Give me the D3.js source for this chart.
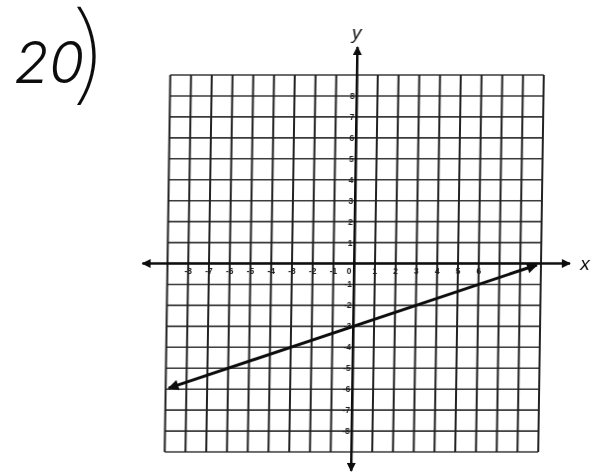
<!DOCTYPE html>
<html>
<head>
<meta charset="utf-8">
<script src="https://cdn.jsdelivr.net/npm/d3@7"></script>
<style>
  html, body { margin: 0; padding: 0; background: #fff; }
  svg { display: block; }
  .tick-label { font-family: "Liberation Sans", Arial, sans-serif; font-size: 8.5px; font-weight: bold; fill: #1a1a1a; }
  .axis-name { font-family: "Liberation Sans", Arial, sans-serif; font-size: 19px; font-style: italic; fill: #111; }
  .problem { font-family: Inter, "Liberation Sans", sans-serif; fill: #111; }
</style>
</head>
<body>
<div id="chart"></div>
<script>
// grid extent and tick labels
var gridMin = -9, gridMax = 9;
var xTicks = [-8, -7, -6, -5, -4, -3, -2, -1, 0, 1, 2, 3, 4, 5, 6];
var yTicks = [8, 7, 6, 5, 4, 3, 2, 1, -1, -2, -3, -4, -5, -6, -7, -8];

// the drawn line y = x/3 - 3, endpoints
var lineX = [-8.85, 8.8];
var lineY = [-5.95, -0.07];

var problemNumber = "20";

var width = 605, height = 476;

var svg = d3.select("#chart").append("svg")
  .attr("width", width)
  .attr("height", height);

var defs = svg.append("defs");
defs.append("filter").attr("id", "scan")
  .append("feGaussianBlur").attr("stdDeviation", 0.5);

defs.append("marker")
  .attr("id", "arrow")
  .attr("viewBox", "0 0 10 10")
  .attr("refX", 9).attr("refY", 5)
  .attr("markerWidth", 4.2).attr("markerHeight", 3.6)
  .attr("orient", "auto-start-reverse")
  .append("path")
  .attr("d", "M0,0 L10,5 L0,10 Z")
  .attr("fill", "#111");

// problem number, handwritten in the scan
var num = svg.append("g").attr("filter", "url(#scan)");
num.append("text")
  .attr("class", "problem")
  .attr("x", 14).attr("y", 83)
  .attr("font-size", 57)
  .attr("font-weight", 300)
  .attr("font-style", "italic")
  .text(problemNumber);
num.append("text")
  .attr("class", "problem")
  .attr("transform", "translate(67,90) scale(1.6,1.2)")
  .attr("font-size", 90)
  .attr("font-weight", 100)
  .text(")");

//Set scales
var x = d3.scaleLinear().domain([gridMin, gridMax]).range([167.5, 541]);
var y = d3.scaleLinear().domain([gridMin, gridMax]).range([452, 75]);

var cx = x(0), cy = y(0);

// scanned page is slightly sheared
var g = svg.append("g")
  .attr("filter", "url(#scan)")
  .attr("transform", "translate(" + cx + "," + cy + ") skewX(-0.85) translate(" + (-cx) + "," + (-cy) + ")");

var steps = d3.range(gridMin, gridMax + 1);

// horizontal grid lines
g.append("g").selectAll("line")
  .data(steps)
  .enter().append("line")
  .attr("x1", x(gridMin)).attr("x2", x(gridMax))
  .attr("y1", d => y(d)).attr("y2", d => y(d))
  .attr("stroke", "#3a3a3a")
  .attr("stroke-width", 1.6);

// vertical grid lines
g.append("g").selectAll("line")
  .data(steps)
  .enter().append("line")
  .attr("x1", d => x(d)).attr("x2", d => x(d))
  .attr("y1", y(gridMin)).attr("y2", y(gridMax))
  .attr("stroke", "#222")
  .attr("stroke-width", 2);

// axes with arrows
g.append("line")
  .attr("x1", x(gridMin) - 25).attr("x2", x(gridMax) + 29)
  .attr("y1", cy).attr("y2", cy)
  .attr("stroke", "#111").attr("stroke-width", 2.5)
  .attr("marker-start", "url(#arrow)")
  .attr("marker-end", "url(#arrow)");

g.append("line")
  .attr("x1", cx).attr("x2", cx)
  .attr("y1", y(gridMax) - 28).attr("y2", y(gridMin) + 19)
  .attr("stroke", "#111").attr("stroke-width", 2.5)
  .attr("marker-start", "url(#arrow)")
  .attr("marker-end", "url(#arrow)");

g.append("text")
  .attr("class", "axis-name")
  .attr("x", cx - 1).attr("y", y(gridMax) - 36)
  .attr("text-anchor", "middle")
  .text("y");

g.append("text")
  .attr("class", "axis-name")
  .attr("x", x(gridMax) + 44).attr("y", cy + 6)
  .attr("text-anchor", "middle")
  .text("x");

// tick labels
g.append("g").selectAll("text")
  .data(xTicks)
  .enter().append("text")
  .attr("class", "tick-label")
  .attr("x", d => d === 0 ? cx - 5 : x(d))
  .attr("y", cy + 10)
  .attr("text-anchor", "middle")
  .text(d => d);

g.append("g").selectAll("text")
  .data(yTicks)
  .enter().append("text")
  .attr("class", "tick-label")
  .attr("x", cx - 2)
  .attr("y", d => y(d) + 3)
  .attr("text-anchor", "end")
  .text(d => d);

// the graphed line
var pts = lineX.map((d, i) => [d, lineY[i]]);
g.append("path")
  .datum(pts)
  .attr("d", d3.line().x(d => x(d[0])).y(d => y(d[1])))
  .attr("fill", "none")
  .attr("stroke", "#111")
  .attr("stroke-width", 3)
  .attr("marker-start", "url(#arrow)")
  .attr("marker-end", "url(#arrow)");
</script>
</body>
</html>
